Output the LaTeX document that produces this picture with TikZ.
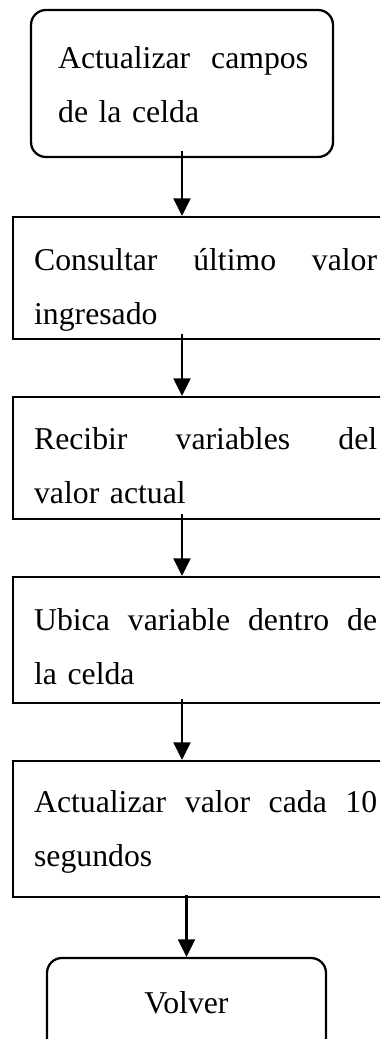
\documentclass[tikz,border=0pt]{standalone}
\usepackage{fontspec}
\setmainfont{Liberation Serif}
\usetikzlibrary{arrows.meta}
\newcommand{\pxl}{0.375pt}

\begin{document}
\begin{tikzpicture}[x=0.375pt, y=-0.375pt, line width=0.85pt, >={Triangle[length=6.6pt, width=6.4pt]},
	box/.style={draw, inner sep=0pt},
	rbox/.style={box, rounded corners=5.6pt},
	txt/.style={inner sep=0pt, anchor=base west, align=left, font=\fontsize{11.9pt}{20.25pt}\selectfont}]
	\useasboundingbox (0,0) rectangle (380,1039);
	\clip (0,0) rectangle (380,1039);

	\node (campos) [rbox, minimum width=302*\pxl, minimum height=147*\pxl] at (182,83.5) {};
	\node (consulta) [box, minimum width=377*\pxl, minimum height=122*\pxl] at (201.5,278) {};
	\node (recibir) [box, minimum width=377*\pxl, minimum height=122*\pxl] at (201.5,458) {};
	\node (ubicar) [box, minimum width=377*\pxl, minimum height=126*\pxl] at (201.5,640) {};
	\node (actualizar) [box, minimum width=377*\pxl, minimum height=136*\pxl] at (201.5,829) {};
	\node (volver) [rbox, minimum width=279*\pxl, minimum height=102*\pxl] at (186.5,1009) {};

	% Texts
	\node (campos-t) [txt, text width=250*\pxl] at (57,68) {Actualizar\hfill campos\\de la celda};
	\node (consulta-t) [txt, text width=343*\pxl] at (33,270) {Consultar\hfill último\hfill valor\\ingresado};
	\node (recibir-t) [txt, text width=343*\pxl] at (33,449) {Recibir\hfill variables\hfill del\\valor actual};
	\node (ubicar-t) [txt, text width=343*\pxl] at (33,630) {Ubica\hfill variable\hfill dentro\hfill de\\la celda};
	\node (actualizar-t) [txt, text width=343*\pxl] at (33,812) {Actualizar\hfill valor\hfill cada\hfill 10\\segundos};
	\node (volver-t) [txt, anchor=base] at (186.5,1013) {Volver};

	% Arrows
	\draw[->, shorten <=-2.6pt] (campos.south) -- (campos.south |- consulta.north);
	\draw[->, shorten <=-2.25pt] (consulta.south -| campos) -- (recibir.north -| campos);
	\draw[->, shorten <=-2.25pt] (recibir.south -| campos) -- (ubicar.north -| campos);
	\draw[->, shorten <=-1.9pt] (ubicar.south -| campos) -- (actualizar.north -| campos);
	\draw[->, shorten <=-1.1pt] (actualizar.south -| volver) -- (volver);
\end{tikzpicture}
\end{document}
